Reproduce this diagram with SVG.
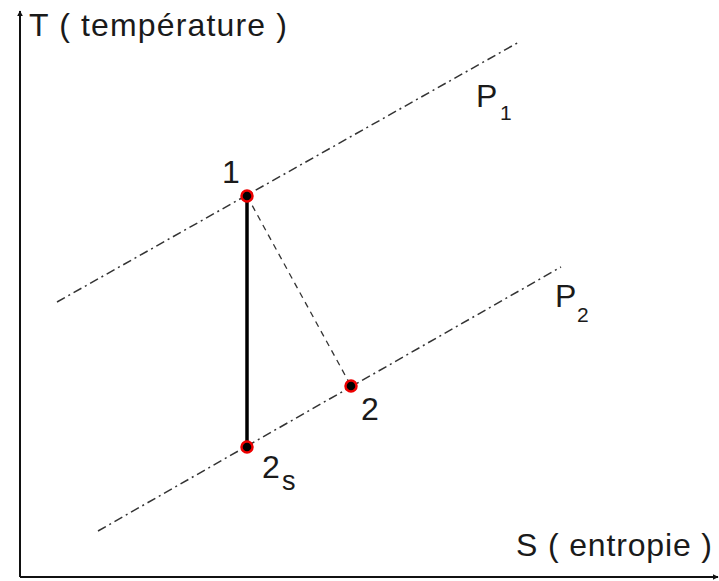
<svg xmlns="http://www.w3.org/2000/svg" width="719" height="581" viewBox="0 0 719 581">
<style>
text{font-family:"Liberation Sans",Arial,sans-serif;fill:#1a1a1a}
.axis{stroke:#111;stroke-width:2;fill:none}
.iso{stroke:#333;stroke-width:1.5;stroke-dasharray:9 4 2 4;fill:none}
.pt{fill:#000;stroke:#e00;stroke-width:2.5}
.big{font-size:32px}
.sub{font-size:21px}
</style>
<defs>
<marker id="ah" viewBox="0 0 10 10" refX="9" refY="5" markerWidth="6" markerHeight="6" markerUnits="userSpaceOnUse" orient="auto"><path d="M0,0 L10,5 L0,10 z" fill="#111"/></marker>
</defs>
<g id="axes">
<line class="axis" x1="20" y1="577" x2="20" y2="11" marker-end="url(#ah)"/>
<line class="axis" x1="20" y1="577" x2="718" y2="577" marker-end="url(#ah)"/>
<text x="29" y="36" class="big" textLength="258">T ( température )</text>
<text x="516" y="556" class="big" textLength="196">S ( entropie )</text>
</g>
<g id="connectors">
<line class="iso" x1="57" y1="302" x2="519" y2="42"/>
<line class="iso" x1="98" y1="531" x2="561" y2="267"/>
<line x1="247" y1="196" x2="351" y2="386" stroke="#333" stroke-width="1.3" stroke-dasharray="6 5"/>
<line x1="247" y1="196" x2="247" y2="447" stroke="#000" stroke-width="3.5"/>
</g>
<g id="P1"><text x="476" y="107" class="big">P</text><text x="500" y="120" class="sub">1</text></g>
<g id="P2"><text x="555" y="307" class="big">P</text><text x="577" y="322" class="sub">2</text></g>
<g id="node1"><circle class="pt" cx="247" cy="196" r="5.5"/><text x="222" y="183" class="big">1</text></g>
<g id="node2s"><circle class="pt" cx="247" cy="447" r="5.5"/><text x="262" y="478" class="big">2</text><text x="282" y="490" font-size="27px">s</text></g>
<g id="node2"><circle class="pt" cx="351" cy="386" r="5.5"/><text x="361" y="420" class="big">2</text></g>
</svg>
